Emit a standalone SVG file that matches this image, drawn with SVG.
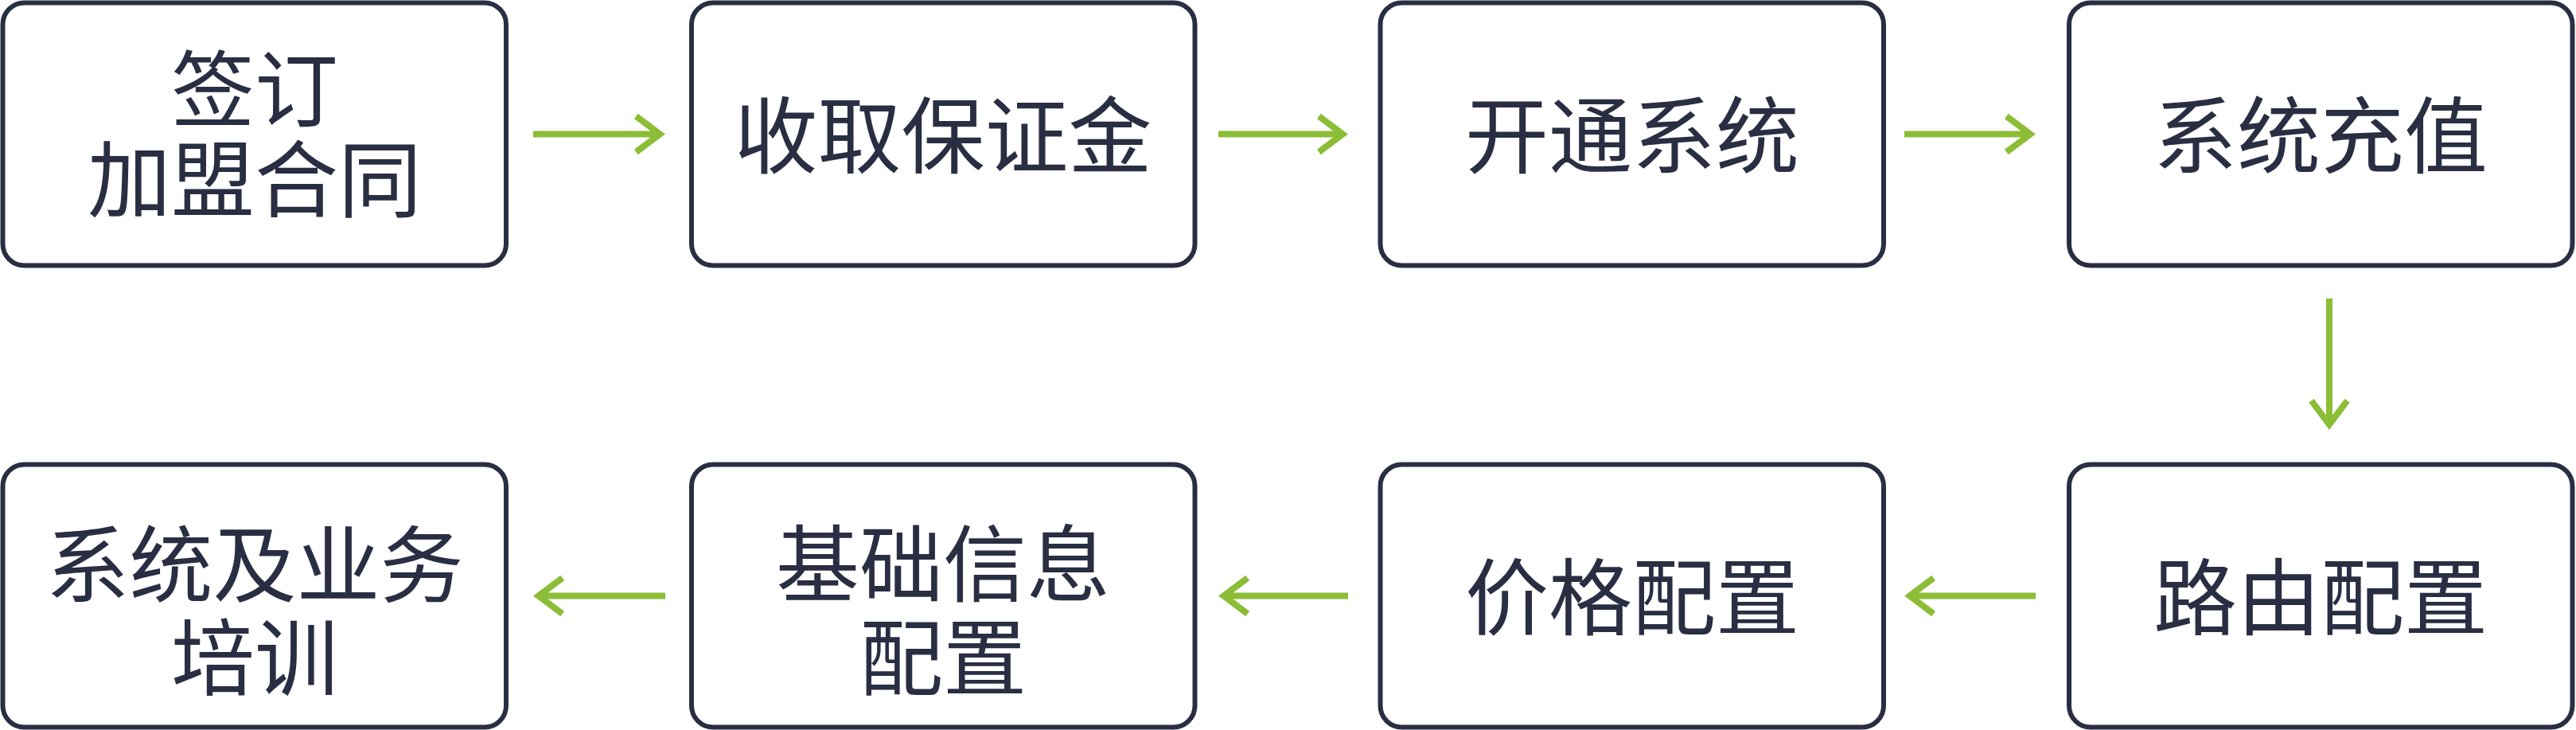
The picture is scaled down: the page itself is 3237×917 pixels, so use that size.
<svg xmlns="http://www.w3.org/2000/svg" width="3237" height="917" viewBox="0 0 3237 917">
<style>
.box{fill:#ffffff;stroke:#2a2e43;stroke-width:6}
.lbl{font-family:"Noto Sans CJK SC","Noto Sans CJK JP",sans-serif;font-size:105px;fill:#2a2e43;text-anchor:middle}
.con{stroke:#8cbd36;stroke-width:8;fill:none}
</style>
<defs>
<marker id="ah" markerUnits="userSpaceOnUse" markerWidth="60" markerHeight="60" viewBox="-40 -30 60 60" refX="0" refY="0" orient="auto" overflow="visible">
<path d="M -30 -22.5 L 0 0 L -30 22.5" fill="none" stroke="#8cbd36" stroke-width="8" stroke-miterlimit="10"/>
</marker>
</defs>
<rect width="3237" height="917" fill="#ffffff"/>
<g id="n1"><rect class="box" x="3.5" y="3.5" width="632.5" height="330" rx="27"/><text class="lbl" x="320" y="150.5">签订</text><text class="lbl" x="320" y="264">加盟合同</text></g>
<g id="n2"><rect class="box" x="869" y="3.5" width="632.5" height="330" rx="27"/><text class="lbl" x="1185" y="208.5">收取保证金</text></g>
<g id="n3"><rect class="box" x="1734.5" y="3.5" width="632.5" height="330" rx="27"/><text class="lbl" x="2051" y="208.5">开通系统</text></g>
<g id="n4"><rect class="box" x="2600" y="3.5" width="632.5" height="330" rx="27"/><text class="lbl" x="2916" y="208.5">系统充值</text></g>
<g id="n5"><rect class="box" x="3.5" y="583.5" width="632.5" height="330" rx="27"/><text class="lbl" x="320" y="747.5">系统及业务</text><text class="lbl" x="320" y="864.5">培训</text></g>
<g id="n6"><rect class="box" x="869" y="583.5" width="632.5" height="330" rx="27"/><text class="lbl" x="1185" y="747">基础信息</text><text class="lbl" x="1185" y="865">配置</text></g>
<g id="n7"><rect class="box" x="1734.5" y="583.5" width="632.5" height="330" rx="27"/><text class="lbl" x="2051" y="788.5">价格配置</text></g>
<g id="n8"><rect class="box" x="2600" y="583.5" width="632.5" height="330" rx="27"/><text class="lbl" x="2916" y="788.5">路由配置</text></g>
<g id="connectors">
<line class="con" x1="670" y1="168.5" x2="829.3" y2="168.5" marker-end="url(#ah)"/>
<line class="con" x1="1531" y1="168.5" x2="1687.3" y2="168.5" marker-end="url(#ah)"/>
<line class="con" x1="2393" y1="168.5" x2="2551.3" y2="168.5" marker-end="url(#ah)"/>
<line class="con" x1="2927" y1="375" x2="2927" y2="533.3" marker-end="url(#ah)"/>
<line class="con" x1="2558" y1="748.5" x2="2399.7" y2="748.5" marker-end="url(#ah)"/>
<line class="con" x1="1694" y1="748.5" x2="1537.7" y2="748.5" marker-end="url(#ah)"/>
<line class="con" x1="836" y1="748.5" x2="676.7" y2="748.5" marker-end="url(#ah)"/>
</g>
</svg>
